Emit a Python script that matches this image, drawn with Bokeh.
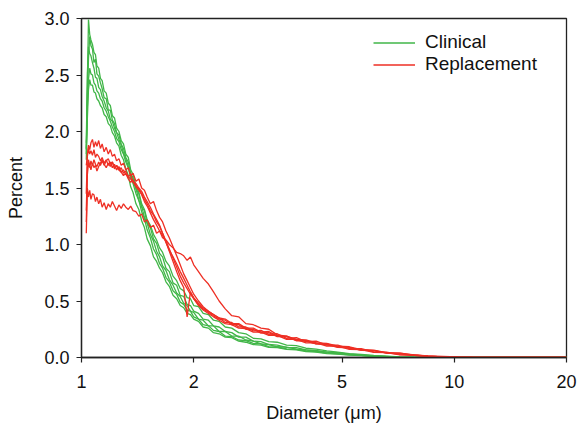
from bokeh.plotting import figure
from bokeh.models import Legend, LegendItem, FixedTicker, PrintfTickFormatter, Range1d
from bokeh.embed import file_html
from bokeh.resources import INLINE

# ---------------- data ----------------
DIAMETER_UM = [
    1.030, 1.037, 1.044, 1.052, 1.060, 1.070, 1.080, 1.090, 1.100, 1.112,
    1.124, 1.136, 1.150, 1.165, 1.180, 1.195, 1.210, 1.226, 1.242, 1.260,
    1.278, 1.296, 1.315, 1.335, 1.355, 1.375, 1.400, 1.425, 1.450, 1.475,
    1.500, 1.530, 1.560, 1.590, 1.620, 1.650, 1.685, 1.720, 1.760, 1.800,
    1.840, 1.880, 1.920, 1.960, 2.000, 2.060, 2.120, 2.190, 2.260, 2.340,
    2.430, 2.530, 2.640, 2.760, 2.890, 3.030, 3.180, 3.350, 3.550, 3.770,
    4.000, 4.260, 4.550, 4.870, 5.230, 5.630, 6.080, 6.580, 7.150, 7.800,
    8.500, 9.300, 10.20, 11.20, 12.30, 20.00,
]

CLINICAL_1 = [
    1.84, 2.40, 2.99, 2.86, 2.81, 2.77, 2.70, 2.68, 2.58, 2.56,
    2.47, 2.45, 2.36, 2.34, 2.25, 2.23, 2.14, 2.12, 2.03, 2.00,
    1.92, 1.89, 1.80, 1.77, 1.66, 1.62, 1.52, 1.46, 1.36, 1.31,
    1.22, 1.17, 1.09, 1.04, 0.97, 0.93, 0.85, 0.81, 0.72, 0.68,
    0.61, 0.59, 0.53, 0.52, 0.46, 0.45, 0.39, 0.38, 0.33, 0.32,
    0.27, 0.26, 0.22, 0.21, 0.17, 0.165, 0.14, 0.135, 0.11, 0.105,
    0.082, 0.074, 0.058, 0.048, 0.034, 0.027, 0.018, 0.012, 0.005, 0.002,
    0.0, 0.0, 0.0, 0.0, 0.0, 0.0,
]
CLINICAL_2 = [
    1.80, 2.32, 2.64, 2.84, 2.76, 2.73, 2.61, 2.64, 2.51, 2.49,
    2.43, 2.38, 2.30, 2.29, 2.19, 2.19, 2.10, 2.07, 1.99, 1.97,
    1.89, 1.85, 1.77, 1.73, 1.63, 1.59, 1.49, 1.45, 1.33, 1.30,
    1.19, 1.15, 1.05, 1.01, 0.92, 0.89, 0.79, 0.76, 0.66, 0.64,
    0.55, 0.54, 0.47, 0.46, 0.41, 0.39, 0.34, 0.33, 0.28, 0.27,
    0.23, 0.22, 0.18, 0.18, 0.145, 0.14, 0.115, 0.11, 0.09, 0.088,
    0.068, 0.062, 0.048, 0.042, 0.029, 0.022, 0.014, 0.010, 0.004, 0.0,
    0.0, 0.0, 0.0, 0.0, 0.0, 0.0,
]
CLINICAL_3 = [
    1.90, 2.52, 2.75, 2.69, 2.67, 2.61, 2.56, 2.48, 2.47, 2.39,
    2.37, 2.31, 2.27, 2.21, 2.18, 2.11, 2.09, 2.03, 1.99, 1.93,
    1.88, 1.81, 1.76, 1.69, 1.63, 1.55, 1.50, 1.39, 1.34, 1.24,
    1.19, 1.09, 1.03, 0.94, 0.89, 0.81, 0.77, 0.69, 0.64, 0.57,
    0.54, 0.48, 0.46, 0.41, 0.40, 0.34, 0.33, 0.28, 0.28, 0.23,
    0.23, 0.19, 0.19, 0.155, 0.145, 0.12, 0.115, 0.095, 0.092, 0.075,
    0.067, 0.053, 0.047, 0.034, 0.029, 0.019, 0.014, 0.007, 0.003, 0.0,
    0.0, 0.0, 0.0, 0.0, 0.0, 0.0,
]
CLINICAL_4 = [
    1.75, 2.22, 2.46, 2.56, 2.51, 2.50, 2.43, 2.41, 2.36, 2.34,
    2.29, 2.27, 2.21, 2.18, 2.13, 2.09, 2.04, 2.00, 1.94, 1.91,
    1.84, 1.80, 1.73, 1.68, 1.59, 1.54, 1.45, 1.39, 1.29, 1.23,
    1.13, 1.06, 0.96, 0.91, 0.83, 0.79, 0.71, 0.67, 0.59, 0.56,
    0.49, 0.47, 0.42, 0.41, 0.36, 0.34, 0.29, 0.28, 0.24, 0.23,
    0.19, 0.185, 0.155, 0.15, 0.125, 0.12, 0.097, 0.093, 0.077, 0.072,
    0.058, 0.052, 0.038, 0.033, 0.024, 0.019, 0.011, 0.008, 0.002, 0.0,
    0.0, 0.0, 0.0, 0.0, 0.0, 0.0,
]
CLINICAL_5 = [
    1.85, 2.12, 2.37, 2.46, 2.41, 2.41, 2.35, 2.34, 2.29, 2.27,
    2.23, 2.21, 2.15, 2.13, 2.07, 2.05, 1.99, 1.96, 1.90, 1.87,
    1.79, 1.75, 1.67, 1.61, 1.51, 1.46, 1.36, 1.31, 1.21, 1.15,
    1.05, 0.99, 0.89, 0.85, 0.79, 0.75, 0.67, 0.63, 0.55, 0.52,
    0.46, 0.44, 0.39, 0.38, 0.34, 0.32, 0.27, 0.26, 0.22, 0.21,
    0.18, 0.175, 0.145, 0.135, 0.115, 0.11, 0.09, 0.088, 0.072, 0.067,
    0.053, 0.047, 0.035, 0.031, 0.021, 0.017, 0.009, 0.007, 0.002, 0.0,
    0.0, 0.0, 0.0, 0.0, 0.0, 0.0,
]

REPLACEMENT_1 = [
    1.10, 1.50, 1.42, 1.48, 1.40, 1.45, 1.44, 1.38, 1.42, 1.36,
    1.40, 1.33, 1.37, 1.31, 1.36, 1.33, 1.38, 1.34, 1.30, 1.35,
    1.32, 1.36, 1.33, 1.31, 1.34, 1.30, 1.29, 1.25, 1.27, 1.20,
    1.22, 1.15, 1.17, 1.10, 1.12, 1.06, 1.04, 1.00, 0.97, 0.93,
    0.92, 0.90, 0.86, 0.89, 0.82, 0.76, 0.70, 0.65, 0.58, 0.50,
    0.43, 0.37, 0.36, 0.30, 0.29, 0.26, 0.25, 0.20, 0.19, 0.15,
    0.145, 0.12, 0.115, 0.09, 0.085, 0.065, 0.06, 0.04, 0.038, 0.022,
    0.015, 0.010, 0.005, 0.002, 0.0, 0.0,
]
REPLACEMENT_2 = [
    1.45, 1.80, 1.88, 1.84, 1.90, 1.93, 1.86, 1.91, 1.87, 1.92,
    1.85, 1.89, 1.82, 1.86, 1.80, 1.84, 1.78, 1.80, 1.74, 1.76,
    1.70, 1.72, 1.66, 1.68, 1.61, 1.63, 1.56, 1.58, 1.50, 1.48,
    1.42, 1.36, 1.38, 1.30, 1.24, 1.20, 1.12, 1.06, 0.98, 0.90,
    0.82, 0.74, 0.68, 0.62, 0.56, 0.50, 0.45, 0.41, 0.38, 0.35,
    0.34, 0.30, 0.30, 0.26, 0.26, 0.225, 0.23, 0.19, 0.19, 0.16,
    0.155, 0.13, 0.125, 0.10, 0.095, 0.07, 0.065, 0.042, 0.038, 0.02,
    0.012, 0.006, 0.003, 0.0, 0.0, 0.0,
]
REPLACEMENT_3 = [
    1.70, 1.78, 1.85, 1.80, 1.83, 1.79, 1.84, 1.77, 1.80, 1.78,
    1.74, 1.77, 1.72, 1.75, 1.70, 1.73, 1.68, 1.71, 1.66, 1.69,
    1.64, 1.66, 1.62, 1.60, 1.58, 1.55, 1.52, 1.49, 1.45, 1.40,
    1.36, 1.30, 1.26, 1.20, 1.16, 1.10, 1.03, 0.96, 0.88, 0.80,
    0.72, 0.66, 0.61, 0.56, 0.52, 0.46, 0.42, 0.39, 0.36, 0.33,
    0.30, 0.29, 0.26, 0.255, 0.225, 0.225, 0.195, 0.195, 0.16, 0.16,
    0.13, 0.13, 0.10, 0.10, 0.072, 0.07, 0.045, 0.043, 0.024, 0.02,
    0.010, 0.005, 0.002, 0.0, 0.0, 0.0,
]
REPLACEMENT_4 = [
    1.20, 1.62, 1.72, 1.68, 1.74, 1.70, 1.75, 1.71, 1.69, 1.73,
    1.70, 1.74, 1.71, 1.68, 1.72, 1.69, 1.73, 1.67, 1.70, 1.66,
    1.68, 1.63, 1.65, 1.60, 1.62, 1.56, 1.54, 1.50, 1.47, 1.42,
    1.38, 1.33, 1.27, 1.22, 1.17, 1.10, 1.02, 0.94, 0.85, 0.76,
    0.68, 0.62, 0.36, 0.58, 0.52, 0.47, 0.43, 0.40, 0.37, 0.34,
    0.33, 0.29, 0.29, 0.25, 0.25, 0.215, 0.22, 0.185, 0.185, 0.15,
    0.15, 0.12, 0.12, 0.092, 0.09, 0.064, 0.06, 0.038, 0.033, 0.018,
    0.012, 0.006, 0.002, 0.0, 0.0, 0.0,
]
REPLACEMENT_5 = [
    1.30, 1.68, 1.75, 1.70, 1.66, 1.72, 1.68, 1.70, 1.65, 1.69,
    1.72, 1.75, 1.70, 1.74, 1.76, 1.71, 1.73, 1.68, 1.70, 1.66,
    1.64, 1.61, 1.63, 1.58, 1.55, 1.57, 1.51, 1.48, 1.44, 1.38,
    1.34, 1.28, 1.22, 1.17, 1.12, 1.08, 1.02, 0.95, 0.89, 0.83,
    0.76, 0.70, 0.64, 0.58, 0.53, 0.48, 0.44, 0.41, 0.38, 0.35,
    0.31, 0.31, 0.27, 0.27, 0.235, 0.24, 0.205, 0.21, 0.17, 0.175,
    0.14, 0.145, 0.11, 0.11, 0.078, 0.078, 0.05, 0.048, 0.026, 0.024,
    0.012, 0.006, 0.002, 0.0, 0.0, 0.0,
]

CLINICAL = [CLINICAL_1, CLINICAL_2, CLINICAL_3, CLINICAL_4, CLINICAL_5]
REPLACEMENT = [REPLACEMENT_1, REPLACEMENT_2, REPLACEMENT_3, REPLACEMENT_4, REPLACEMENT_5]

X_TICKS = [1, 2, 5, 10, 20]
Y_TICKS = [0.0, 0.5, 1.0, 1.5, 2.0, 2.5, 3.0]

GREEN = "#41b648"
RED = "#ee2f24"
FONT = "Liberation Sans"

# ---------------- figure ----------------
p = figure(width=578, height=428, x_axis_type="log",
           x_range=Range1d(1, 20), y_range=Range1d(0, 3),
           output_backend="svg", toolbar_location=None,
           min_border_left=81, min_border_right=12,
           min_border_top=18, min_border_bottom=71,
           background_fill_color="white", border_fill_color="white")

p.xgrid.visible = False
p.ygrid.visible = False
p.outline_line_color = "#222222"
p.outline_line_width = 1.3

green_renderers = [p.line(DIAMETER_UM, ys, line_color=GREEN, line_width=1.3) for ys in CLINICAL]
red_renderers = [p.line(DIAMETER_UM, ys, line_color=RED, line_width=1.3) for ys in REPLACEMENT]

p.xaxis.ticker = FixedTicker(ticks=X_TICKS, minor_ticks=[])
p.yaxis.ticker = FixedTicker(ticks=Y_TICKS, minor_ticks=[])
p.xaxis.formatter = PrintfTickFormatter(format="%d")
p.yaxis.formatter = PrintfTickFormatter(format="%.1f")

for ax in (p.xaxis[0], p.yaxis[0]):
    ax.axis_line_color = "#222222"
    ax.axis_line_width = 1.3
    ax.major_tick_line_color = "#222222"
    ax.major_tick_line_width = 1.2
    ax.major_tick_out = 5
    ax.major_tick_in = 0
    ax.minor_tick_out = 0
    ax.minor_tick_in = 0
    ax.major_label_text_font = FONT
    ax.major_label_text_font_size = "18px"
    ax.major_label_text_color = "#111111"
    ax.axis_label_text_font = FONT
    ax.axis_label_text_font_size = "18px"
    ax.axis_label_text_font_style = "normal"
    ax.axis_label_text_color = "#111111"

p.xaxis.axis_label = "Diameter (\u03bcm)"
p.yaxis.axis_label = "Percent"
p.xaxis.major_label_standoff = 12
p.xaxis.axis_label_standoff = 12
p.yaxis.major_label_standoff = 7
p.yaxis.axis_label_standoff = 15

legend = Legend(
    items=[LegendItem(label="Clinical", renderers=[green_renderers[0]]),
           LegendItem(label="Replacement", renderers=[red_renderers[0]])],
    location=(292, 282), padding=0, spacing=0, margin=0,
    glyph_width=42, glyph_height=21, label_height=21, label_standoff=10,
    label_text_font=FONT, label_text_font_size="19px", label_text_color="#111111",
    border_line_alpha=0, background_fill_alpha=0,
)
p.add_layout(legend)

open("out.html", "w").write(file_html(p, INLINE))
